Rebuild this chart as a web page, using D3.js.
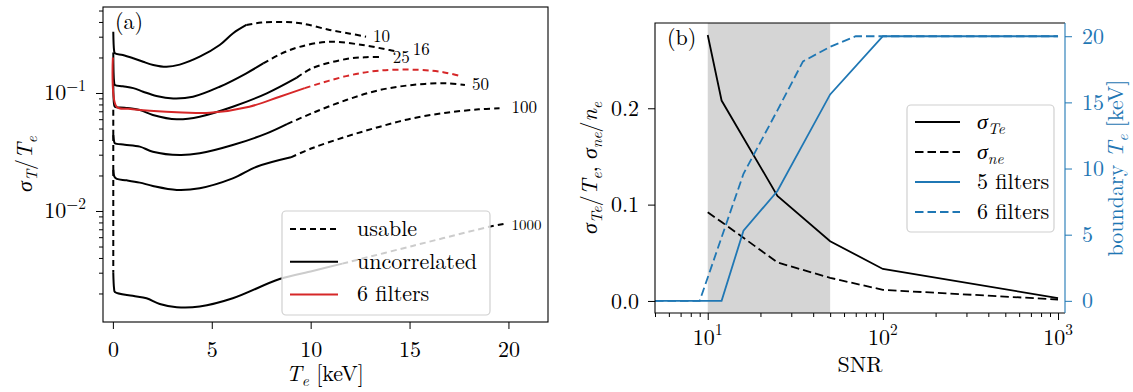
<!DOCTYPE html>
<html>
<head>
<meta charset="utf-8">
<script src="https://cdn.jsdelivr.net/npm/d3@7"></script>
<style>
  body { margin: 0; background: #fff; }
</style>
</head>
<body>
<svg id="chart" width="1133" height="392"></svg>
<script>
// ---- panel (a): sigma_T/T_e against T_e [keV], one curve per SNR ----
const snrLabels = ["10", "16", "25", "50", "100", "1000"];

const solid10 = [[0.02, 0.33], [0.06, 0.23], [0.1, 0.217], [0.5, 0.21], [1.03, 0.197], [1.53, 0.184], [2.04, 0.173], [2.71, 0.167], [3.38, 0.174], [4.39, 0.203], [5.4, 0.255], [6.08, 0.321], [6.75, 0.377]];
const dash10 = [[6.75, 0.377], [7.5, 0.395], [8.4, 0.40], [9.5, 0.39], [10.96, 0.342], [12.0, 0.318], [12.8, 0.30]];

const solid16 = [[0.02, 0.22], [0.06, 0.125], [0.1, 0.117], [0.5, 0.114], [1.03, 0.110], [1.53, 0.1026], [2.2, 0.0944], [3.05, 0.090], [4.05, 0.093], [5.4, 0.113], [6.75, 0.147], [7.6, 0.178]];
const dash16 = [[7.6, 0.178], [8.43, 0.212], [9.44, 0.246], [10.96, 0.272], [12.63, 0.255], [13.99, 0.231], [14.4, 0.224]];

const solid25 = [[0.02, 0.12], [0.06, 0.08], [0.1, 0.0765], [0.6, 0.075], [1.36, 0.0717], [2.02, 0.0652], [3.23, 0.0599], [4.39, 0.063], [6.06, 0.0765], [7.78, 0.0994], [9.3, 0.135]];
const dash25 = [[9.3, 0.135], [10.1, 0.163], [11.8, 0.194], [12.8, 0.201], [13.6, 0.202]];

const lowDash50 = [[0.02, 0.072], [0.02, 0.044]];
const solid50 = [[0.02, 0.044], [0.06, 0.039], [0.1, 0.0375], [0.6, 0.0365], [1.36, 0.0351], [2.02, 0.0318], [3.38, 0.0298], [4.39, 0.0308], [6.06, 0.0362], [7.78, 0.0455], [8.8, 0.0545]];
const dash50 = [[8.8, 0.0545], [10.1, 0.0677], [11.8, 0.0872], [13.5, 0.106], [15.15, 0.117], [16.87, 0.121], [17.8, 0.117]];

const lowDash100 = [[0.02, 0.044], [0.02, 0.0223]];
const solid100 = [[0.02, 0.0223], [0.08, 0.0195], [0.2, 0.0187], [0.7, 0.0182], [1.36, 0.0174], [2.02, 0.0163], [3.23, 0.0151], [4.39, 0.0156], [6.06, 0.0189], [7.27, 0.0237], [9.0, 0.0285]];
const dash100 = [[9.0, 0.0285], [10.1, 0.0342], [11.8, 0.0427], [13.5, 0.0518], [15.15, 0.061], [16.87, 0.0681], [18.5, 0.0727], [19.55, 0.0741]];

const lowDash1000 = [[0.02, 0.0223], [0.02, 0.0030]];
const solid1000 = [[0.02, 0.0030], [0.06, 0.0022], [0.1, 0.00206], [1.0, 0.00191], [1.7, 0.00182], [2.37, 0.00163], [3.23, 0.00153], [4.39, 0.00155], [6.06, 0.00182], [8.43, 0.00265], [10.1, 0.0031], [11.6, 0.00358]];
const dash1000 = [[11.6, 0.00358], [15.15, 0.00506], [19.2, 0.00746], [19.8, 0.0078]];

const solidRed = [[0.0, 0.20], [0.19, 0.0765], [0.8, 0.0735], [1.87, 0.0708], [3.5, 0.0685], [4.9, 0.068], [6.9, 0.0765], [8.43, 0.093], [9.7, 0.110]];
const dashRed = [[9.7, 0.110], [11.8, 0.139], [13.5, 0.155], [15.5, 0.157], [16.7, 0.150], [17.6, 0.139]];

const xTicksA = [0, 5, 10, 15, 20];
const legendA = ["usable", "uncorrelated", "6 filters"];

// ---- panel (b): errors and boundary T_e against SNR ----
const snrSigma = [10, 12, 25, 50, 100, 1000];
const sigmaTe = [0.276, 0.208, 0.109, 0.062, 0.0332, 0.003];
const sigmaNe = [0.092, 0.082, 0.040, 0.024, 0.0115, 0.0015];
const snr5 = [5, 12, 16, 25, 50, 100, 1000];
const bound5 = [0, 0, 5.3, 8.3, 15.6, 20, 20];
const snr6 = [5, 9, 16, 25, 35, 50, 70, 100, 1000];
const bound6 = [0, 0, 9.6, 14.4, 18.1, 19.2, 20, 20, 20];
const shadedSnr = [10, 50];
const yTicksB = [0.0, 0.1, 0.2];
const yTicksB2 = [0, 5, 10, 15, 20];

const blue = "#1f77b4", red = "#d62728";
const FS = 22;
const FONT = "Latin Modern Roman, Liberation Serif, serif";
const GREEK = "Liberation Serif, serif";

const svg = d3.select("#chart");

// text with italic / sub / superscript parts
function rich(sel, parts, size) {
  let off = 0;
  parts.forEach(p => {
    const target = p.sub ? size * 0.24 : p.sup ? -size * 0.45 : 0;
    const ts = sel.append("tspan")
      .attr("dy", target - off)
      .attr("font-size", p.sub || p.sup ? size * 0.7 : size)
      .attr("font-style", p.it ? "italic" : null)
      .text(p.t);
    if (p.t === "\u03c3") ts.attr("class", "greek");
    off = target;
  });
  return sel;
}

// ================= panel (a) =================
const A = { left: 103, right: 548, top: 7, bottom: 322 };
const xA = d3.scaleLinear().domain([-0.5, 22]).range([A.left, A.right]);
const yA = d3.scaleLog().domain([Math.pow(10, -2.9407), Math.pow(10, -0.2712)]).range([A.bottom, A.top]);

const gA = svg.append("g");
gA.append("clipPath").attr("id", "clipA").append("rect")
  .attr("x", A.left).attr("y", A.top).attr("width", A.right - A.left).attr("height", A.bottom - A.top);

const smoothA = d3.line().x(d => xA(d[0])).y(d => yA(d[1])).curve(d3.curveCatmullRom.alpha(0.5));
const straightA = d3.line().x(d => xA(d[0])).y(d => yA(d[1]));

const curvesA = [
  { label: snrLabels[0], low: null, solid: solid10, dash: dash10 },
  { label: snrLabels[1], low: null, solid: solid16, dash: dash16 },
  { label: snrLabels[2], low: null, solid: solid25, dash: dash25 },
  { label: snrLabels[3], low: lowDash50, solid: solid50, dash: dash50 },
  { label: snrLabels[4], low: lowDash100, solid: solid100, dash: dash100 },
  { label: snrLabels[5], low: lowDash1000, solid: solid1000, dash: dash1000 }
];
const labelShift = [[7, 0], [15, -2], [11, 0], [7, -1], [12, -1], [7, 1]];

const lines = gA.append("g").attr("clip-path", "url(#clipA)");
const dashA = "6,4";

curvesA.forEach(c => {
  if (c.low) lines.append("path").attr("d", straightA(c.low)).attr("fill", "none")
    .attr("stroke", "#000").attr("stroke-width", 2).attr("stroke-dasharray", dashA);
  lines.append("path").attr("d", smoothA(c.solid)).attr("fill", "none")
    .attr("stroke", "#000").attr("stroke-width", 2);
  lines.append("path").attr("d", smoothA(c.dash)).attr("fill", "none")
    .attr("stroke", "#000").attr("stroke-width", 2).attr("stroke-dasharray", dashA);
});
lines.append("path").attr("d", smoothA(solidRed)).attr("fill", "none")
  .attr("stroke", red).attr("stroke-width", 2);
lines.append("path").attr("d", smoothA(dashRed)).attr("fill", "none")
  .attr("stroke", red).attr("stroke-width", 2).attr("stroke-dasharray", dashA);

// curve labels
curvesA.forEach((c, i) => {
  const last = c.dash[c.dash.length - 1];
  gA.append("text")
    .attr("x", xA(last[0]) + labelShift[i][0])
    .attr("y", yA(last[1]) + labelShift[i][1])
    .attr("dy", "0.33em")
    .attr("font-size", c.label === "1000" ? 15 : 17)
    .text(c.label);
});

// axes (a)
const axBA = gA.append("g").attr("transform", `translate(0,${A.bottom})`)
  .call(d3.axisBottom(xA).tickValues(xTicksA).tickSize(7).tickPadding(12.5).tickFormat(d3.format("d")));
axBA.select(".domain").remove();

const majorA = [0.01, 0.1];
const minorA = [];
[0.001, 0.01, 0.1].forEach(b => d3.range(2, 10).forEach(k => {
  const v = b * k;
  if (v > yA.domain()[0] && v < yA.domain()[1]) minorA.push(v);
}));
const axLA = gA.append("g").attr("transform", `translate(${A.left},0)`)
  .call(d3.axisLeft(yA).tickValues(majorA).tickSize(7).tickFormat(""));
axLA.select(".domain").remove();
const axLAm = gA.append("g").attr("transform", `translate(${A.left},0)`)
  .call(d3.axisLeft(yA).tickValues(minorA).tickSize(4).tickFormat(""));
axLAm.select(".domain").remove();
majorA.forEach(v => {
  const t = gA.append("text").attr("x", 86).attr("y", yA(v) + 7.5).attr("text-anchor", "end").attr("font-size", FS);
  rich(t, [{ t: "10" }, { t: "\u2212" + Math.round(-Math.log10(v)), sup: true }], FS);
});

gA.append("rect").attr("x", A.left).attr("y", A.top).attr("width", A.right - A.left).attr("height", A.bottom - A.top)
  .attr("fill", "none").attr("stroke", "#000").attr("stroke-width", 1.1);

gA.append("text").attr("x", A.left + 12).attr("y", A.top + 22).attr("font-size", FS).text("(a)");

rich(gA.append("text").attr("x", 325).attr("y", 381).attr("text-anchor", "middle").attr("font-size", FS),
  [{ t: "T", it: true }, { t: "e", it: true, sub: true }, { t: " [keV]" }], FS);

rich(gA.append("text").attr("transform", "translate(32,164) rotate(-90)").attr("text-anchor", "middle").attr("font-size", FS),
  [{ t: "\u03c3", it: true }, { t: "T", it: true, sub: true }, { t: "/" }, { t: "T", it: true }, { t: "e", it: true, sub: true }], FS);

// legend (a)
const legA = gA.append("g");
legA.append("rect").attr("x", 282).attr("y", 211).attr("width", 208).attr("height", 104).attr("rx", 4)
  .attr("fill", "#fff").attr("fill-opacity", 0.8).attr("stroke", "#d0d0d0").attr("stroke-width", 1.2);
const legAStyle = [{ c: "#000", d: dashA }, { c: "#000", d: null }, { c: red, d: null }];
legendA.forEach((name, i) => {
  const y = 229 + i * 32.7;
  legA.append("line").attr("x1", 290).attr("x2", 338).attr("y1", y).attr("y2", y)
    .attr("stroke", legAStyle[i].c).attr("stroke-width", 2).attr("stroke-dasharray", legAStyle[i].d);
  legA.append("text").attr("x", 357).attr("y", y + 7).attr("font-size", FS).text(name);
});

// ================= panel (b) =================
const B = { left: 655, right: 1065, top: 23, bottom: 313 };
const xB = d3.scaleLog().domain([5, 1096]).range([B.left, B.right]);
const yB = d3.scaleLinear().domain([-0.0125, 0.2885]).range([B.bottom, B.top]);
const yB2 = d3.scaleLinear().domain([-0.92, 21.0]).range([B.bottom, B.top]);

const gB = svg.append("g");
gB.append("clipPath").attr("id", "clipB").append("rect")
  .attr("x", B.left).attr("y", B.top).attr("width", B.right - B.left).attr("height", B.bottom - B.top);

gB.append("rect").attr("x", xB(shadedSnr[0])).attr("y", B.top)
  .attr("width", xB(shadedSnr[1]) - xB(shadedSnr[0])).attr("height", B.bottom - B.top)
  .attr("fill", "#d5d5d5");

const linesB = gB.append("g").attr("clip-path", "url(#clipB)");
const lineB = d3.line().x(d => xB(d[0])).y(d => yB(d[1]));
const lineB2 = d3.line().x(d => xB(d[0])).y(d => yB2(d[1]));
const dashB = "8.5,4";

linesB.append("path").attr("d", lineB(d3.zip(snrSigma, sigmaTe))).attr("fill", "none")
  .attr("stroke", "#000").attr("stroke-width", 1.8);
linesB.append("path").attr("d", lineB(d3.zip(snrSigma, sigmaNe))).attr("fill", "none")
  .attr("stroke", "#000").attr("stroke-width", 1.8).attr("stroke-dasharray", dashB);
linesB.append("path").attr("d", lineB2(d3.zip(snr5, bound5))).attr("fill", "none")
  .attr("stroke", blue).attr("stroke-width", 1.8);
linesB.append("path").attr("d", lineB2(d3.zip(snr6, bound6))).attr("fill", "none")
  .attr("stroke", blue).attr("stroke-width", 1.8).attr("stroke-dasharray", dashB);

// bottom log axis
const majorB = [10, 100, 1000];
const minorB = [];
[1, 10, 100].forEach(b => d3.range(2, 10).forEach(k => {
  const v = b * k;
  if (v >= 5 && v < 1096) minorB.push(v);
}));
const axBB = gB.append("g").attr("transform", `translate(0,${B.bottom})`)
  .call(d3.axisBottom(xB).tickValues(majorB).tickSize(7).tickFormat(""));
axBB.select(".domain").remove();
const axBBm = gB.append("g").attr("transform", `translate(0,${B.bottom})`)
  .call(d3.axisBottom(xB).tickValues(minorB).tickSize(4).tickFormat(""));
axBBm.select(".domain").remove();
majorB.forEach(v => {
  const t = gB.append("text").attr("x", xB(v)).attr("y", 345).attr("text-anchor", "middle").attr("font-size", FS);
  rich(t, [{ t: "10" }, { t: String(Math.round(Math.log10(v))), sup: true }], FS);
});

const axLB = gB.append("g").attr("transform", `translate(${B.left},0)`)
  .call(d3.axisLeft(yB).tickValues(yTicksB).tickSize(7).tickPadding(9).tickFormat(d3.format(".1f")));
axLB.select(".domain").remove();

const axRB = gB.append("g").attr("transform", `translate(${B.right},0)`)
  .call(d3.axisRight(yB2).tickValues(yTicksB2).tickSize(7).tickPadding(10).tickFormat(d3.format("d")));
axRB.select(".domain").remove();
axRB.selectAll("line").attr("stroke", blue);
axRB.selectAll("text").attr("fill", blue);

// frame
gB.append("path").attr("d", `M${B.right},${B.top}H${B.left}V${B.bottom}H${B.right}`)
  .attr("fill", "none").attr("stroke", "#000").attr("stroke-width", 1.1);
gB.append("line").attr("x1", B.right).attr("x2", B.right).attr("y1", B.top).attr("y2", B.bottom)
  .attr("stroke", blue).attr("stroke-width", 1.1);

gB.append("text").attr("x", B.left + 12).attr("y", B.top + 22).attr("font-size", FS).text("(b)");

gB.append("text").attr("x", (B.left + B.right) / 2).attr("y", 372).attr("text-anchor", "middle")
  .attr("font-size", FS).text("SNR");

rich(gB.append("text").attr("transform", "translate(597,168) rotate(-90)").attr("text-anchor", "middle").attr("font-size", FS),
  [{ t: "\u03c3", it: true }, { t: "Te", it: true, sub: true }, { t: "/" }, { t: "T", it: true }, { t: "e", it: true, sub: true },
   { t: ", " }, { t: "\u03c3", it: true }, { t: "ne", it: true, sub: true }, { t: "/" }, { t: "n", it: true }, { t: "e", it: true, sub: true }], FS);

const rl = gB.append("text").attr("transform", "translate(1123,168) rotate(-90)").attr("text-anchor", "middle")
  .attr("font-size", FS).attr("fill", blue);
rich(rl, [{ t: "boundary " }, { t: "T", it: true }, { t: "e", it: true, sub: true }, { t: " [keV]" }], FS);

// legend (b)
const legB = gB.append("g");
legB.append("rect").attr("x", 907).attr("y", 105).attr("width", 147).attr("height", 127).attr("rx", 4)
  .attr("fill", "#fff").attr("fill-opacity", 0.8).attr("stroke", "#d0d0d0").attr("stroke-width", 1.2);
const legBItems = [
  { c: "#000", d: null, parts: [{ t: "\u03c3", it: true }, { t: "Te", it: true, sub: true }] },
  { c: "#000", d: dashB, parts: [{ t: "\u03c3", it: true }, { t: "ne", it: true, sub: true }] },
  { c: blue, d: null, parts: [{ t: "5 filters" }] },
  { c: blue, d: dashB, parts: [{ t: "6 filters" }] }
];
legBItems.forEach((it, i) => {
  const y = 122 + i * 30;
  legB.append("line").attr("x1", 915).attr("x2", 960).attr("y1", y).attr("y2", y)
    .attr("stroke", it.c).attr("stroke-width", 1.8).attr("stroke-dasharray", it.d);
  rich(legB.append("text").attr("x", 977).attr("y", y + 7).attr("font-size", FS), it.parts, FS);
});

// one serif face for every label, axis groups included
svg.selectAll("g").attr("font-family", null);
svg.selectAll("text").attr("font-family", FONT).attr("font-size", function () {
  return this.getAttribute("font-size") || FS;
});
svg.selectAll("tspan.greek").attr("font-family", GREEK);
</script>
</body>
</html>
